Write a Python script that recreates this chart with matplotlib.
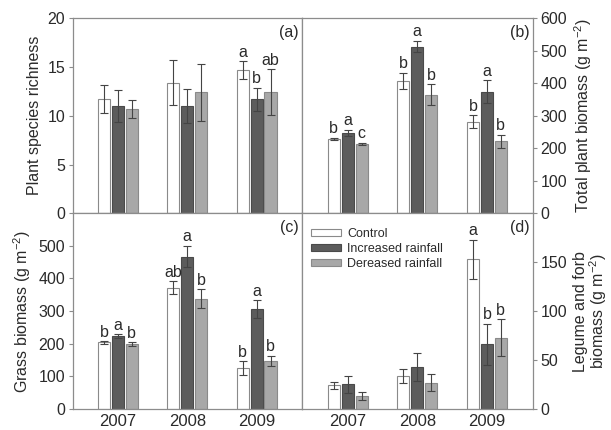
import numpy as np
import matplotlib.pyplot as plt

plt.rcParams['font.family'] = ['Liberation Sans', 'DejaVu Sans']
plt.rcParams['mathtext.default'] = 'regular'

years = ['2007', '2008', '2009']
treatments = ['Control', 'Increased rainfall', 'Dereased rainfall']

# means / SE per treatment (rows) and year (columns)
richness = [[11.7, 13.4, 14.7], [11.0, 11.0, 11.7], [10.7, 12.4, 12.4]]
richness_se = [[1.45, 2.3, 0.9], [1.6, 1.7, 1.2], [0.9, 2.95, 2.35]]
richness_letters = [['', '', 'a'], ['', '', 'b'], ['', '', 'ab']]

total = [[229, 407, 282], [248, 513, 374], [213, 365, 222]]
total_se = [[3, 26, 20], [9, 18, 36], [4, 33, 20]]
total_letters = [['b', 'b', 'b'], ['a', 'a', 'a'], ['c', 'b', 'b']]

grass = [[204, 371, 126], [223, 467, 306], [198, 338, 148]]
grass_se = [[4, 20, 21], [6, 33, 27], [6, 30, 15]]
grass_letters = [['b', 'ab', 'b'], ['a', 'a', 'a'], ['b', 'b', 'b']]

legume = [[24, 34, 153], [25, 43, 66], [13, 27, 73]]
legume_se = [[4, 7, 20], [9, 14, 21], [4, 9, 19]]
legume_letters = [['', '', 'a'], ['', '', 'b'], ['', '', 'b']]

colors = ['white', '#5c5c5c', '#a8a8a8']
edges = ['#8a8a8a', '#4a4a4a', '#8a8a8a']
spine_col = '#8c8c8c'
text_col = '#2a2a2a'


def draw_panel(ax, means, ses, letters, ylim, yticks, tag, side):
    x = np.arange(len(years))
    offsets = [-0.2, 0.0, 0.2]
    for i in range(len(treatments)):
        ax.bar(x + offsets[i], means[i], width=0.175, color=colors[i],
               edgecolor=edges[i], linewidth=0.8, label=treatments[i],
               yerr=ses[i], capsize=3,
               error_kw=dict(ecolor='#444444', elinewidth=0.8, capthick=0.8))
        for j in range(len(years)):
            if letters[i][j]:
                ax.annotate(letters[i][j], xy=(x[j] + offsets[i], means[i][j] + ses[i][j]),
                            xytext=(0, 1), textcoords='offset points',
                            ha='center', va='bottom', fontsize=11.5, color=text_col)
    ax.set_xlim(-0.65, 2.66)
    ax.set_ylim(*ylim)
    ax.set_yticks(yticks)
    ax.set_xticks(x)
    ax.set_xticklabels(years)
    for s in ax.spines.values():
        s.set_color(spine_col)
        s.set_linewidth(0.9)
    ax.tick_params(axis='y', direction='out', length=3, color=spine_col,
                   labelsize=11.5, labelcolor=text_col, pad=2.5)
    ax.tick_params(axis='x', length=0, labelsize=12, labelcolor=text_col, pad=4)
    if side == 'right':
        ax.yaxis.tick_right()
        ax.yaxis.set_label_position('right')
    ax.text(0.985, 0.925, tag, transform=ax.transAxes, ha='right', va='center',
            fontsize=11.5, color=text_col)


fig = plt.figure(figsize=(6.11, 4.30), dpi=100)
ax_a = fig.add_axes([0.119, 0.504, 0.376, 0.4535])
ax_b = fig.add_axes([0.495, 0.504, 0.377, 0.4535])
ax_c = fig.add_axes([0.119, 0.049, 0.376, 0.455])
ax_d = fig.add_axes([0.495, 0.049, 0.377, 0.455])

draw_panel(ax_a, richness, richness_se, richness_letters, (0, 20), [0, 5, 10, 15, 20], '(a)', 'left')
draw_panel(ax_b, total, total_se, total_letters, (0, 600), range(0, 601, 100), '(b)', 'right')
draw_panel(ax_c, grass, grass_se, grass_letters, (0, 600), range(0, 501, 100), '(c)', 'left')
draw_panel(ax_d, legume, legume_se, legume_letters, (0, 200), [0, 50, 100, 150], '(d)', 'right')

for ax in (ax_a, ax_b):
    ax.tick_params(axis='x', labelbottom=False)

ax_a.set_ylabel('Plant species richness', fontsize=11.5, color=text_col, labelpad=4)
ax_b.set_ylabel('Total plant biomass (g m$^{-2}$)', fontsize=11.5, color=text_col, labelpad=4)
ax_c.set_ylabel('Grass biomass (g m$^{-2}$)', fontsize=11.5, color=text_col, labelpad=4)
ax_d.set_ylabel('Legume and forb\nbiomass (g m$^{-2}$)', fontsize=11.5, color=text_col,
                labelpad=4, linespacing=1.0)

ax_d.legend(loc='upper left', bbox_to_anchor=(0.0, 0.97), frameon=False, fontsize=9,
            handlelength=2.4, handleheight=0.5, handletextpad=0.5, labelspacing=0.25,
            borderaxespad=0.3, labelcolor=text_col)

fig.savefig('out.png', dpi=100)
